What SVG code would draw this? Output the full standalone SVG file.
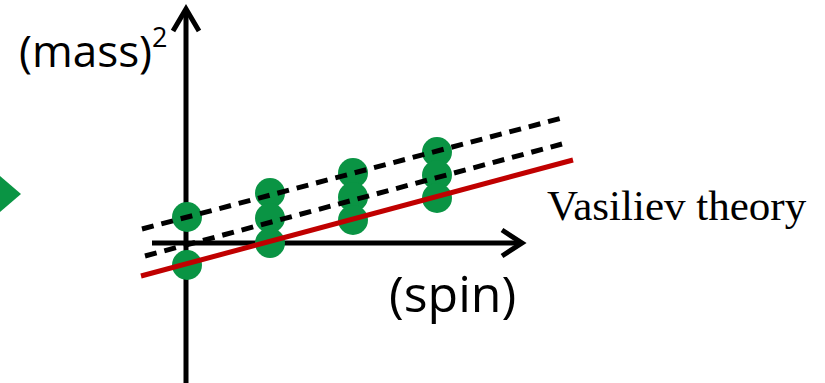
<svg xmlns="http://www.w3.org/2000/svg" width="825" height="383" viewBox="0 0 825 383">
<style>
.ax{stroke:#000;stroke-width:5;fill:none}
.dot{fill:#0A9444}
.dash{stroke:#000;stroke-width:5;stroke-dasharray:12 8;fill:none}
.red{stroke:#C00000;stroke-width:5;fill:none}
.sans{font-family:"Open Sans","Noto Sans",sans-serif;fill:#000}
.serif{font-family:"Liberation Serif","Times New Roman",serif;fill:#000}
</style>
<rect width="825" height="383" fill="#fff"/>
<polygon id="arrow-left" class="dot" points="0,176 21,194 0,212"/>
<g id="axes">
<line class="ax" x1="186" y1="383" x2="186" y2="9"/>
<polyline class="ax" points="173,31 186,9 199,31"/>
<line class="ax" x1="152" y1="243" x2="522" y2="243"/>
<polyline class="ax" points="502,230 522,243 502,256"/>
</g>
<g id="dots">
<circle class="dot" cx="187" cy="217" r="15"/>
<circle class="dot" cx="187" cy="265" r="15"/>
<circle class="dot" cx="270" cy="193" r="15"/>
<circle class="dot" cx="270" cy="218" r="15"/>
<circle class="dot" cx="270" cy="243" r="15"/>
<circle class="dot" cx="353" cy="173" r="15"/>
<circle class="dot" cx="353" cy="197" r="15"/>
<circle class="dot" cx="353" cy="220" r="15"/>
<circle class="dot" cx="437" cy="152" r="15"/>
<circle class="dot" cx="437" cy="175" r="15"/>
<circle class="dot" cx="437" cy="198" r="15"/>
</g>
<g id="lines">
<line class="dash" x1="142" y1="229" x2="562" y2="118"/>
<line class="dash" x1="145" y1="256" x2="562" y2="144"/>
<line class="red" x1="141" y1="276" x2="573" y2="160"/>
</g>
<g id="labels">
<text class="sans" x="19" y="67" font-size="44">(mass)<tspan font-size="27" dy="-20">2</tspan></text>
<text class="sans" x="389" y="312" font-size="50">(spin)</text>
<text class="serif" x="547" y="220" font-size="43">Vasiliev theory</text>
</g>
</svg>
